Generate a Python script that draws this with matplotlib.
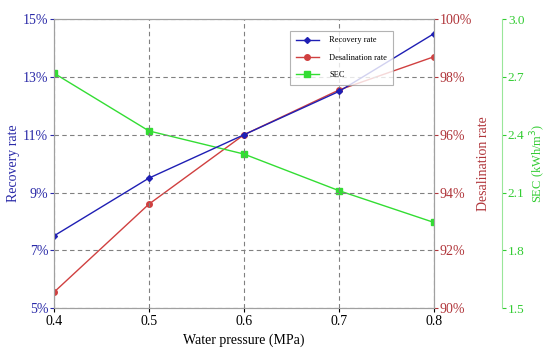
import numpy as np
import matplotlib
matplotlib.use('Agg')
import matplotlib.pyplot as plt
from matplotlib.ticker import FuncFormatter

plt.rcParams['font.family'] = ['Liberation Serif', 'DejaVu Serif']

pressure = [0.4, 0.5, 0.6, 0.7, 0.8]
recovery = [7.5, 9.5, 11.0, 12.5, 14.5]
desal = [90.55, 93.6, 96.0, 97.55, 98.7]
sec = [2.72, 2.42, 2.30, 2.11, 1.945]

blue = '#2a2aa8'
red = '#b0353a'
green = '#33cc33'

fig = plt.figure(figsize=(5.5, 3.49), dpi=100)
ax = fig.add_axes([0.098, 0.117, 0.691, 0.828])

ax.plot(pressure, recovery, color='#1f1fb4', marker='D', markersize=3, lw=1, label='Recovery rate')
ax.set_xlim(0.4, 0.8)
ax.set_ylim(5, 15)
ax.set_xticks([0.4, 0.5, 0.6, 0.7, 0.8])
ax.set_yticks([5, 7, 9, 11, 13, 15])
ax.yaxis.set_major_formatter(FuncFormatter(lambda v, p: '%d%%' % v))
ax.grid(True, ls=(0, (4, 3)), color='#808080', lw=0.8)
ax.set_xlabel('Water pressure (MPa)', fontsize=10, labelpad=4)
ax.set_ylabel('Recovery rate', color=blue, fontsize=10, labelpad=2)
ax.tick_params(axis='y', colors=blue, labelsize=10, length=3, pad=1)
ax.tick_params(axis='x', labelsize=10, length=3, pad=2)
for s in ax.spines.values():
    s.set_color('#a0a0a0')

ax2 = ax.twinx()
ax2.plot(pressure, desal, color='#d04040', marker='o', markersize=4, lw=1, label='Desalination rate')
ax2.set_ylim(90, 100)
ax2.set_yticks([90, 92, 94, 96, 98, 100])
ax2.yaxis.set_major_formatter(FuncFormatter(lambda v, p: '%d%%' % v))
ax2.set_ylabel('Desalination rate', color=red, fontsize=10, labelpad=4)
ax2.tick_params(axis='y', colors=red, labelsize=10, length=3, pad=1)
for s in ax2.spines.values():
    s.set_color('#a0a0a0')

ax3 = ax.twinx()
ax3.spines['right'].set_position(('axes', 1.18))
ax3.plot(pressure, sec, color='#33dd33', marker='s', markersize=4, lw=1, label='SEC')
ax3.set_ylim(1.5, 3.0)
ax3.set_yticks([1.5, 1.8, 2.1, 2.4, 2.7, 3.0])
ax3.yaxis.set_major_formatter(FuncFormatter(lambda v, p: '%.1f' % v))
ax3.set_ylabel('SEC (kWh/m$^3$)', color=green, fontsize=9, labelpad=3)
ax3.tick_params(axis='y', colors=green, labelsize=9.5, length=3, pad=1)
for k in ['top', 'left', 'bottom']:
    ax3.spines[k].set_visible(False)
ax3.spines['right'].set_color('#99e699')

handles = ax.get_lines() + ax2.get_lines() + ax3.get_lines()
leg = ax.legend(handles, [h.get_label() for h in handles], loc='upper left',
                bbox_to_anchor=(0.61, 0.975), fontsize=6, frameon=True,
                fancybox=False, edgecolor='#a0a0a0', borderpad=0.7, labelspacing=1.1,
                handlelength=2.8, handletextpad=1.2)
leg.get_frame().set_linewidth(0.8)
ax.set_zorder(ax3.get_zorder() + 1)
ax.patch.set_visible(False)

fig.savefig('out.png', dpi=100)
